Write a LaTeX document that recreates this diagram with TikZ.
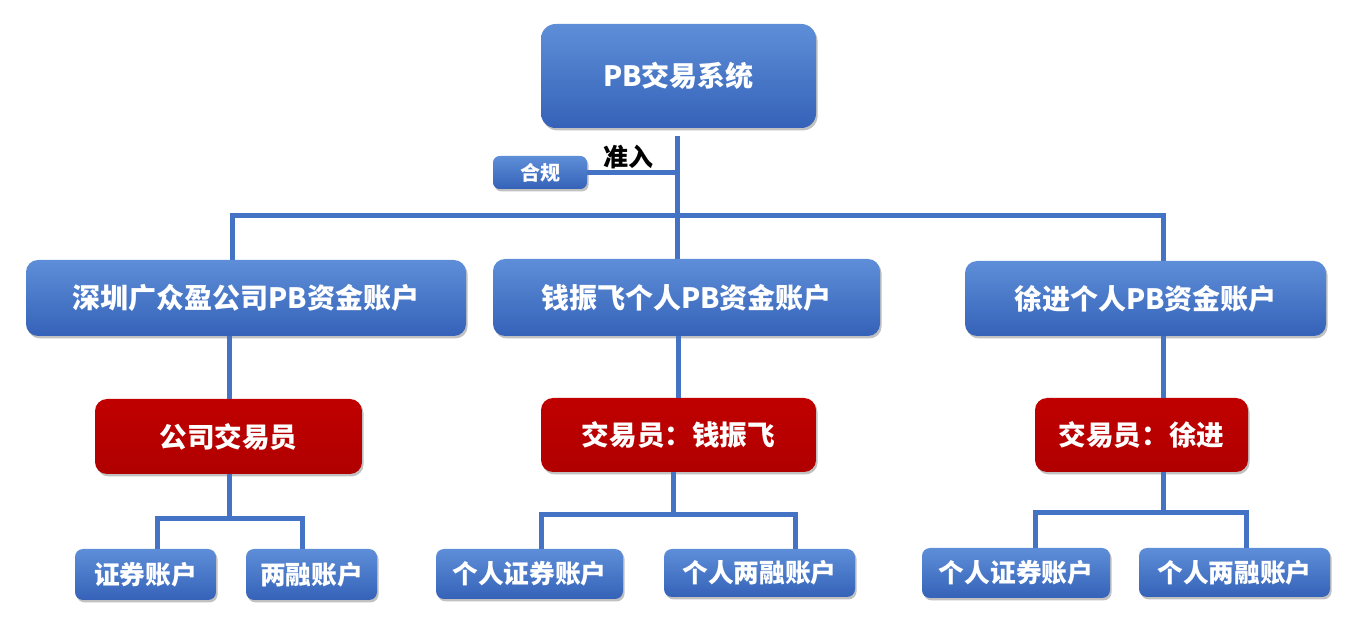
\documentclass[tikz,border=0pt]{standalone}
\usepackage{fontspec}
\setmainfont{Noto Sans CJK SC}
\usetikzlibrary{shadows}
\definecolor{bluetop}{HTML}{5E8ED8}
\definecolor{bluebot}{HTML}{3562B8}
\definecolor{redbox}{HTML}{C00000}
\definecolor{redbot}{HTML}{B00000}
\definecolor{linec}{HTML}{4472C4}
\tikzset{
  box/.style={inner sep=0pt, text=white, font=\bfseries, align=center,
    drop shadow={shadow xshift=1.2pt, shadow yshift=-1.8pt, opacity=0.35, fill=black!70}},
  bluebox/.style={box, top color=bluetop, bottom color=bluebot, draw=none},
  redboxs/.style={box, top color=redbox, bottom color=redbot, draw=none},
  conn/.style={draw=linec, line width=3.75pt}
}
\begin{document}
\begin{tikzpicture}[x=0.75pt,y=-0.75pt]
\useasboundingbox (0,0) rectangle (1365,634);
% nodes
\node[bluebox, rounded corners=11pt, minimum width=206.25pt, minimum height=78pt, font=\bfseries\fontsize{21}{24}\selectfont] (top) at (678.5,76) {PB交易系统};
\node[bluebox, rounded corners=5pt, minimum width=70.5pt, minimum height=24.75pt, font=\bfseries\fontsize{15}{17}\selectfont] (hg) at (540,172.5) {合规};
\node[inner sep=0pt, font=\bfseries\fontsize{18.75}{21}\selectfont] (zr) at (628,157) {准入};

\node[bluebox, rounded corners=9pt, minimum width=330pt, minimum height=57pt, font=\bfseries\fontsize{21}{24}\selectfont] (l2a) at (246,298) {深圳广众盈公司PB资金账户};
\node[bluebox, rounded corners=9pt, minimum width=290.25pt, minimum height=57.75pt, font=\bfseries\fontsize{21}{24}\selectfont] (l2b) at (686.5,297.5) {钱振飞个人PB资金账户};
\node[bluebox, rounded corners=9pt, minimum width=270.75pt, minimum height=56.25pt, font=\bfseries\fontsize{21}{24}\selectfont] (l2c) at (1145.5,298.5) {徐进个人PB资金账户};

\node[redboxs, rounded corners=9pt, minimum width=200.25pt, minimum height=56.25pt, font=\bfseries\fontsize{20.7}{24}\selectfont] (r1) at (228.5,436.5) {公司交易员};
\node[redboxs, rounded corners=9pt, minimum width=206.25pt, minimum height=55.5pt, font=\bfseries\fontsize{20.7}{24}\selectfont] (r2) at (678.5,435) {交易员：钱振飞};
\node[redboxs, rounded corners=9pt, minimum width=159.75pt, minimum height=55.5pt, font=\bfseries\fontsize{20.7}{24}\selectfont] (r3) at (1141.5,435) {交易员：徐进};

\node[bluebox, rounded corners=6pt, minimum width=105.75pt, minimum height=38.25pt, font=\bfseries\fontsize{19.3}{22}\selectfont] (f1) at (145.5,574.5) {证券账户};
\node[bluebox, rounded corners=6pt, minimum width=98.25pt, minimum height=38.25pt, font=\bfseries\fontsize{19.3}{22}\selectfont] (f2) at (311.5,574.5) {两融账户};
\node[bluebox, rounded corners=6pt, minimum width=140.25pt, minimum height=37.5pt, font=\bfseries\fontsize{19.3}{22}\selectfont] (f3) at (529.5,574) {个人证券账户};
\node[bluebox, rounded corners=6pt, minimum width=143.25pt, minimum height=36pt, font=\bfseries\fontsize{19.3}{22}\selectfont] (f4) at (759.5,573) {个人两融账户};
\node[bluebox, rounded corners=6pt, minimum width=141pt, minimum height=37.5pt, font=\bfseries\fontsize{19.3}{22}\selectfont] (f5) at (1016,573) {个人证券账户};
\node[bluebox, rounded corners=6pt, minimum width=143.25pt, minimum height=36.75pt, font=\bfseries\fontsize{19.3}{22}\selectfont] (f6) at (1234.5,572.5) {个人两融账户};

% junction coordinates
\coordinate (j0) at (677,216);
\coordinate (ja) at (232,216);
\coordinate (jc) at (1163,216);
\coordinate (b1l) at (157,519);
\coordinate (b1r) at (302,519);
\coordinate (b1s) at (229,519);
\coordinate (b2l) at (541,515);
\coordinate (b2r) at (795,515);
\coordinate (b2s) at (673,515);
\coordinate (b3l) at (1035,513);
\coordinate (b3r) at (1246,513);
\coordinate (b3s) at (1163,513);

% connectors
\begin{scope}[on background layer/.style={}]
\draw[conn] ([yshift=-6pt]top.south -| j0) -- (j0 |- l2b.north);
\draw[conn] (ja |- l2a.north) -- (ja) -- (jc) -- (jc |- l2c.north);
\draw[conn] (hg.east) -- (hg.east -| j0);
\draw[conn] (r1.north -| b1s) -- (b1s |- l2a.south);
\draw[conn] (r2.north) -- (r2.north |- l2b.south);
\draw[conn] (jc |- l2c.south) -- (jc |- r3.north);
\draw[conn] (b1s |- r1.south) -- (b1s);
\draw[conn] (b1l |- f1.north) -- (b1l) -- (b1r) -- (b1r |- f2.north);
\draw[conn] (b2s |- r2.south) -- (b2s);
\draw[conn] (b2l |- f3.north) -- (b2l) -- (b2r) -- (b2r |- f4.north);
\draw[conn] (b3s |- r3.south) -- (b3s);
\draw[conn] (b3l |- f5.north) -- (b3l) -- (b3r) -- (b3r |- f6.north);
\end{scope}
\end{tikzpicture}
\end{document}
